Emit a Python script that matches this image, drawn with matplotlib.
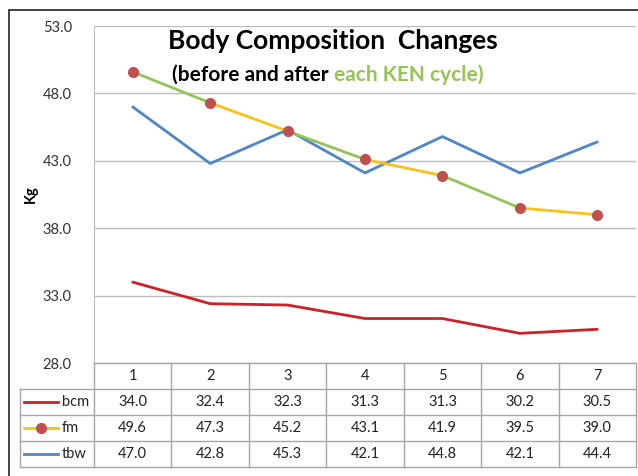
import matplotlib
matplotlib.use("Agg")
import matplotlib.pyplot as plt
from matplotlib.patches import Rectangle

plt.rcParams['font.family'] = ['Lato', 'DejaVu Sans']

cycles = ['1', '2', '3', '4', '5', '6', '7']
bcm = [34.0, 32.4, 32.3, 31.3, 31.3, 30.2, 30.5]
fm = [49.6, 47.3, 45.2, 43.1, 41.9, 39.5, 39.0]
tbw = [47.0, 42.8, 45.3, 42.1, 44.8, 42.1, 44.4]
yticks = [28.0, 33.0, 38.0, 43.0, 48.0, 53.0]

red = '#CC2127'
yellow = '#F7C21A'
green = '#94C356'
blue = '#4F86C6'
dot = '#C0504D'
grid = '#BDBDBD'

W, H = 638, 476
fig = plt.figure(figsize=(W / 100, H / 100), dpi=100)

def fx(px):
    return px / W

def fy(py):
    return 1 - py / H

# outer frame
fig.patches.append(Rectangle((fx(9), fy(480)), 1, fy(10) - fy(480), transform=fig.transFigure,
                             fill=False, edgecolor='#222222', linewidth=1.2, clip_on=False))

left, right, top, bottom = 94, 636, 26, 363
ax = fig.add_axes([fx(left), fy(bottom), fx(right - left), fy(top) - fy(bottom)])
x = list(range(len(cycles)))

ax.plot(x, bcm, color=red, lw=2.0, solid_capstyle='round', zorder=3)
ax.plot(x, tbw, color=blue, lw=2.0, solid_capstyle='round', zorder=3)
for i in range(len(fm) - 1):
    ax.plot(x[i:i + 2], fm[i:i + 2], color=green if i % 2 == 0 else yellow, lw=2.0, zorder=4)
ax.plot(x, fm, linestyle='none', marker='o', markersize=7, color=dot, zorder=5)

ax.set_xlim(-0.5, len(cycles) - 0.5)
ax.set_ylim(yticks[0], yticks[-1])
ax.set_yticks(yticks)
ax.set_yticklabels([f'{v:.1f}' for v in yticks], fontsize=10.5, color='#333333')
ax.set_xticks([])
ax.tick_params(axis='y', length=0, pad=16)
ax.yaxis.grid(True, color=grid, lw=1)
for s in ['top', 'right', 'bottom']:
    ax.spines[s].set_visible(False)
ax.spines['left'].set_color(grid)
ax.set_ylabel('Kg', fontsize=10.5, fontweight='bold')
ax.yaxis.set_label_coords(-56 / (right - left), 0.5)

ax.text(0.441, 0.99, 'Body Composition  Changes', transform=ax.transAxes, ha='center', va='top',
        fontsize=19, fontweight='bold')
t1 = ax.text(0.144, 0.885, '(before and after ', transform=ax.transAxes, ha='left', va='top',
             fontsize=15, fontweight='bold')
ax.annotate('each KEN cycle)', xy=(1, 0), xycoords=t1, ha='left', va='bottom',
            fontsize=15, fontweight='bold', color=green)

# data table
row_h = [26, 26, 25, 27]
tab = fig.add_axes([fx(left), fy(bottom + sum(row_h)), fx(right - left), fy(bottom) - fy(bottom + sum(row_h))])
tab.set_xlim(-0.5, len(cycles) - 0.5)
tab.set_ylim(4, 0)
tab.axis('off')
col_w = (right - left) / len(cycles)
lab_left = -0.5 - (left - 20) / col_w
lc = '#A6A6A6'
for r in range(5):
    x0 = -0.5 if r == 0 else lab_left
    tab.plot([x0, len(cycles) - 0.5], [r, r], color=lc, lw=1, clip_on=False)
for c in range(len(cycles) + 1):
    tab.plot([c - 0.5, c - 0.5], [0, 4], color=lc, lw=1, clip_on=False)
tab.plot([lab_left, lab_left], [1, 4], color=lc, lw=1, clip_on=False)

for i, c in enumerate(cycles):
    tab.text(i, 0.5, c, ha='center', va='center', fontsize=10.5, color='#222222')
rows = [('bcm', bcm, red, None), ('fm', fm, yellow, dot), ('tbw', tbw, blue, None)]
for r, (name, vals, col, mk) in enumerate(rows, start=1):
    for i, v in enumerate(vals):
        tab.text(i, r + 0.5, f'{v:.1f}', ha='center', va='center', fontsize=10.5, color='#222222')
    l0 = lab_left + 4 / col_w
    l1 = lab_left + 38 / col_w
    tab.plot([l0, l1], [r + 0.5, r + 0.5], color=col, lw=2.0, clip_on=False)
    if mk:
        tab.plot([(l0 + l1) / 2], [r + 0.5], marker='o', markersize=7, color=mk, clip_on=False)
    tab.text(l1 + 4 / col_w, r + 0.5, name, ha='left', va='center', fontsize=10.5, color='#222222')

fig.savefig('out.png', dpi=100)
